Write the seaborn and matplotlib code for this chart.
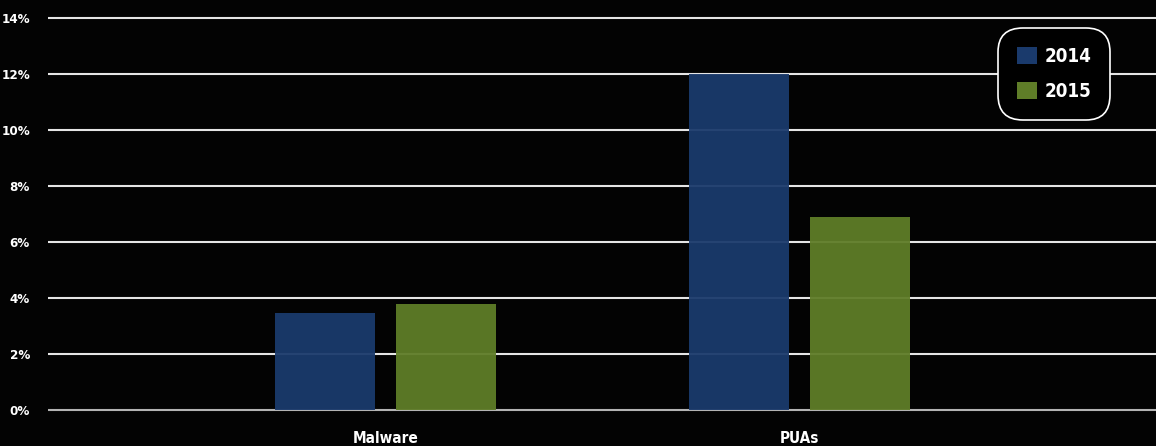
import matplotlib
matplotlib.use("Agg")
import matplotlib.pyplot as plt
import seaborn as sns
import pandas as pd
from matplotlib.ticker import FuncFormatter

categories = ["Malware", "PUAs"]
years = ["2014", "2015"]
share_2014 = [3.45, 12.0]
share_2015 = [3.8, 6.9]
y_ticks = [0, 2, 4, 6, 8, 10, 12, 14]

df = pd.DataFrame({
    "category": categories * 2,
    "year": [years[0]] * len(categories) + [years[1]] * len(categories),
    "share": share_2014 + share_2015,
})

sns.set_theme(style="dark")
plt.rcParams["font.family"] = ["DejaVu Sans"]
plt.rcParams["font.stretch"] = "condensed"

bg = "#030303"
palette = {"2014": "#1a3a6c", "2015": "#5f7d28"}

W, H = 1156, 446
fig = plt.figure(figsize=(W / 100, H / 100), dpi=100, facecolor=bg)
pad = 0.15
ppu = 28.0
bottom_px = 410 + pad * ppu
top_px = 18 - pad * ppu
ax = fig.add_axes([48 / W, (H - bottom_px) / H, 1 - 48 / W, (bottom_px - top_px) / H])
ax.set_facecolor(bg)

sns.barplot(data=df, x="category", y="share", hue="year", palette=palette,
            width=0.5845, gap=0.174, alpha=0.95, saturation=1, ax=ax, zorder=3,
            linewidth=0, edgecolor="none", legend=True)

ax.set_ylim(-pad, 14 + pad)
ax.set_xlim(-0.815, 1.861)
ax.set_yticks(y_ticks)
ax.yaxis.set_major_formatter(FuncFormatter(lambda v, p: f"{int(v)}%"))
ax.grid(False)
for v in y_ticks:
    ax.axhline(v, color="white", lw=1.5, alpha=0.9 if v else 0.7, zorder=2)

ax.tick_params(axis="y", length=0, pad=13, labelsize=9.5, labelcolor="white")
ax.tick_params(axis="x", length=0, pad=12, labelsize=11, labelcolor="white")
for lab in ax.get_xticklabels() + ax.get_yticklabels():
    lab.set_fontweight("bold")
ax.set_xlabel("")
ax.set_ylabel("")
for s in ax.spines.values():
    s.set_visible(False)

handles, labels = ax.get_legend_handles_labels()
leg_top = (bottom_px - 28) / (bottom_px - top_px)
leg_right = (1110 - 48) / (W - 48)
leg = ax.legend(handles, labels, loc="upper right", bbox_to_anchor=(leg_right, leg_top),
                borderaxespad=0, frameon=True, fancybox=True, facecolor="black",
                edgecolor="white", fontsize=13.5, handlelength=1.05, handleheight=1.05,
                handletextpad=0.4, labelspacing=0.85, borderpad=1.0, framealpha=1)
leg.get_frame().set_linewidth(1.2)
leg.get_frame().set_boxstyle("round", pad=0.0, rounding_size=1.3)
for t in leg.get_texts():
    t.set_color("white")
    t.set_fontweight("bold")
for h in leg.legend_handles:
    h.set_alpha(1)
    h.set_edgecolor("none")

fig.savefig("out.png", dpi=100, facecolor=bg)
